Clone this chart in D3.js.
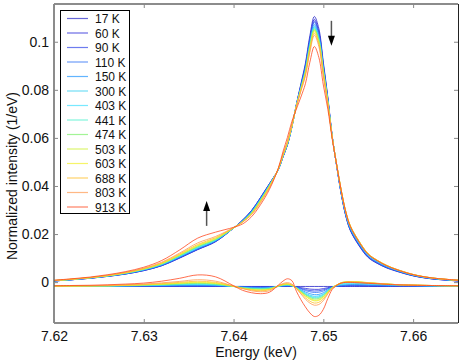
<!DOCTYPE html>
<html>
<head>
<meta charset="utf-8">
<script src="https://cdn.jsdelivr.net/npm/d3@7"></script>
<style>
  body { margin: 0; background: #fff; }
  svg { font-family: 'Liberation Sans', Arial, sans-serif; }
</style>
</head>
<body>
<div id="chart"></div>
<script>
'use strict';

// energy grid (keV)
var energies = [7.620, 7.622, 7.624, 7.626, 7.628, 7.630, 7.632, 7.634, 7.636, 7.638,
  7.640, 7.641, 7.642, 7.643, 7.644, 7.645, 7.6455, 7.646, 7.6465, 7.647,
  7.6475, 7.648, 7.6485, 7.649, 7.6495, 7.650, 7.6505, 7.651, 7.6515, 7.652,
  7.6525, 7.653, 7.654, 7.655, 7.656, 7.657, 7.658, 7.660, 7.662, 7.665];

// 17 K spectrum (1e-3 / eV)
var baseSpectrum = [0.5, 1.0, 1.6, 2.4, 3.4, 4.8, 6.8, 10.0, 13.5, 16.8,
  22.5, 25.8, 29.8, 35.2, 41.0, 47.0, 52.0, 57.0, 64.5, 74.0,
  82.5, 91.0, 102.5, 110.5, 105.5, 91.5, 77.0, 60.5, 48.0, 36.5,
  27.5, 21.5, 15.0, 10.2, 7.8, 6.0, 4.7, 2.6, 1.4, 0.5];

var temperatures = ['17 K', '60 K', '90 K', '110 K', '150 K', '300 K', '403 K',
  '441 K', '474 K', '503 K', '603 K', '688 K', '803 K', '913 K'];

var colors = ['#2626c8', '#2a2ad8', '#2f45e8', '#2f72f5', '#1f95ff', '#33cdf0', '#3ee0ff',
  '#4cefcc', '#7cef6a', '#cdef30', '#f2ef2a', '#ffbf2a', '#ff9a50', '#ff4a22'];

// difference to 17 K spectrum (1e-3 / eV)
var diff17 = [0,0,0,0, 0,0,0,0,0,0,0, 0,0,0,0, 0,0,0,0,
  0,0,0,0,0,0,0,0,0,0, 0,0,0,0,0,0,0,0,0,0,0];
var diff60 = [0,0,0,0, 0,0,0.1,0.1,0.1,0.1,0, 0,-0.1,-0.1,-0.1, 0,0,0.1,0.1,
  -0.1,-0.5,-0.8,-1.1,-1.2,-1.2,-0.9,-0.5,-0.1,0.0, 0.1,0.2,0.2,0.2,0.2,0.1,0.1,0.1,0.1,0,0];
var diff90 = [0,0,0,0.1, 0.1,0.1,0.1,0.2,0.2,0.2,0, -0.1,-0.2,-0.2,-0.2, 0,0.1,0.2,0.1,
  -0.2,-0.8,-1.3,-1.7,-1.9,-1.8,-1.4,-0.8,-0.2,0.1, 0.2,0.3,0.4,0.4,0.3,0.3,0.2,0.2,0.1,0.1,0];
var diff110 = [0,0,0.1,0.1, 0.1,0.2,0.2,0.3,0.3,0.3,0, -0.2,-0.3,-0.4,-0.3, 0,0.2,0.3,0.2,
  -0.3,-1.0,-1.7,-2.2,-2.5,-2.4,-1.9,-1.0,-0.3,0.1, 0.3,0.5,0.6,0.6,0.5,0.4,0.3,0.3,0.2,0.1,0.1];
var diff150 = [0,0.1,0.1,0.1, 0.2,0.3,0.4,0.5,0.5,0.4,0, -0.3,-0.5,-0.6,-0.5, 0,0.3,0.4,0.2,
  -0.4,-1.4,-2.3,-3.0,-3.4,-3.3,-2.6,-1.4,-0.3,0.2, 0.5,0.7,0.8,0.8,0.7,0.6,0.5,0.4,0.3,0.2,0.1];
var diff300 = [0.1,0.1,0.1,0.2, 0.3,0.4,0.5,0.7,0.8,0.6,0, -0.4,-0.7,-0.8,-0.6, 0.1,0.4,0.5,0.3,
  -0.5,-1.6,-2.8,-3.6,-4.1,-3.9,-3.1,-1.6,-0.4,0.3, 0.8,1.0,1.1,1.1,1.0,0.8,0.7,0.5,0.4,0.3,0.2];
var diff403 = [0.1,0.1,0.2,0.2, 0.3,0.4,0.6,0.8,0.9,0.7,0, -0.5,-0.8,-0.9,-0.7, 0.1,0.5,0.6,0.3,
  -0.5,-1.8,-3.1,-4.0,-4.5,-4.3,-3.4,-1.8,-0.4,0.4, 1.0,1.3,1.4,1.3,1.2,1.0,0.8,0.6,0.4,0.3,0.2];
var diff441 = [0.1,0.1,0.2,0.2, 0.4,0.5,0.7,0.9,1.1,0.8,0, -0.6,-0.9,-1.0,-0.8, 0.1,0.5,0.7,0.4,
  -0.6,-1.9,-3.3,-4.2,-4.8,-4.6,-3.6,-1.9,-0.4,0.5, 1.2,1.5,1.6,1.5,1.3,1.1,0.9,0.7,0.5,0.3,0.2];
var diff474 = [0.1,0.2,0.2,0.3, 0.4,0.6,0.8,1.1,1.3,1.0,0, -0.6,-1.0,-1.1,-0.9, 0.2,0.6,0.8,0.4,
  -0.6,-2.1,-3.5,-4.6,-5.2,-5.0,-4.0,-2.1,-0.4,0.6, 1.5,1.8,1.9,1.8,1.5,1.2,1.0,0.8,0.5,0.4,0.2];
var diff503 = [0.1,0.2,0.2,0.3, 0.5,0.7,0.9,1.3,1.6,1.2,0.1, -0.7,-1.2,-1.4,-1.1, 0.2,0.7,0.9,0.5,
  -0.7,-2.3,-3.9,-5.0,-5.7,-5.5,-4.3,-2.3,-0.5,0.6, 1.6,1.9,2.0,1.9,1.6,1.3,1.1,0.8,0.6,0.4,0.3];
var diff603 = [0.2,0.2,0.3,0.3, 0.5,0.7,1.0,1.4,1.8,1.4,0.1, -0.8,-1.3,-1.5,-1.2, 0.3,0.8,1.0,0.5,
  -0.7,-2.4,-4.1,-5.3,-6.0,-5.8,-4.6,-2.4,-0.5,0.6, 1.6,1.9,2.0,1.9,1.6,1.3,1.1,0.8,0.6,0.4,0.3];
var diff688 = [0.2,0.2,0.3,0.4, 0.6,0.8,1.2,1.7,2.2,1.7,0.1, -0.9,-1.5,-1.8,-1.4, 0.3,0.9,1.2,0.6,
  -0.8,-2.8,-4.7,-6.1,-6.9,-6.6,-5.2,-2.8,-0.6,0.6, 1.5,1.8,1.9,1.8,1.5,1.3,1.0,0.8,0.6,0.4,0.3];
var diff803 = [0.2,0.3,0.3,0.5, 0.7,1.0,1.5,2.1,2.8,2.2,0.2, -0.8,-1.8,-2.2,-1.8, 0.4,1.2,1.6,1.0,
  -0.9,-3.1,-5.3,-6.9,-7.8,-7.5,-5.9,-3.1,-0.7,0.5, 1.4,1.7,1.8,1.7,1.5,1.2,1.0,0.8,0.6,0.4,0.3];
var diff913 = [0.3,0.4,0.5,0.7, 1.0,1.4,2.2,3.4,4.8,4.0,0.3, -1.6,-2.6,-3.0,-2.4, 0.6,2.2,3.2,2.4,
  -2.0,-5.5,-8.5,-11.0,-12.5,-12.0,-9.5,-5.0,-1.2,0.5, 1.4,1.7,1.7,1.5,1.3,1.1,0.9,0.7,0.5,0.4,0.3];

var diffs = [diff17, diff60, diff90, diff110, diff150, diff300, diff403,
  diff441, diff474, diff503, diff603, diff688, diff803, diff913];

var diffOffset = -0.0018;

var xTicks = [7.62, 7.63, 7.64, 7.65, 7.66];
var yTicks = [0, 0.02, 0.04, 0.06, 0.08, 0.1];

// arrows: [energy, from, to]
var arrows = [[7.637, 0.0234, 0.0338], [7.6509, 0.1087, 0.0983]];

var width = 463, height = 362;
var margin = {top: 4, right: 5, bottom: 39, left: 54};
var w = width - margin.left - margin.right,
    h = height - margin.top - margin.bottom;

var svg = d3.select('#chart').append('svg')
  .attr('width', width)
  .attr('height', height);

var x = d3.scaleLinear().domain([7.62, 7.665]).range([0, w]);
var y = d3.scaleLinear().domain([-0.017, 0.1157]).range([h, 0]);

var g = svg.append('g')
  .attr('transform', 'translate(' + margin.left + ',' + margin.top + ')');

g.append('clipPath').attr('id', 'clip')
  .append('rect').attr('width', w).attr('height', h);

var series = temperatures.map(function(t, i) {
  return {
    name: t,
    color: colors[i],
    spectrum: energies.map(function(e, j) { return [e, (baseSpectrum[j] + diffs[i][j]) / 1000]; }),
    diff: energies.map(function(e, j) { return [e, diffs[i][j] / 1000 + diffOffset]; })
  };
});

var line = d3.line()
  .x(function(d) { return x(d[0]); })
  .y(function(d) { return y(d[1]); })
  .curve(d3.curveCatmullRom.alpha(0.5));

var plot = g.append('g').attr('clip-path', 'url(#clip)');

series.forEach(function(s) {
  plot.append('path')
    .attr('d', line(s.diff))
    .attr('fill', 'none')
    .attr('stroke', s.color)
    .attr('stroke-opacity', 0.8)
    .attr('stroke-width', 1);
});
series.forEach(function(s) {
  plot.append('path')
    .attr('d', line(s.spectrum))
    .attr('fill', 'none')
    .attr('stroke', s.color)
    .attr('stroke-opacity', 0.8)
    .attr('stroke-width', 1);
});

// arrows
arrows.forEach(function(a) {
  var ax = x(a[0]), y0 = y(a[1]), y1 = y(a[2]);
  var dir = y1 < y0 ? 1 : -1;
  g.append('line')
    .attr('x1', ax).attr('x2', ax)
    .attr('y1', y0).attr('y2', y1 + dir * 8)
    .attr('stroke', '#555')
    .attr('stroke-width', 1.5);
  g.append('path')
    .attr('d', 'M' + ax + ',' + y1 + 'L' + (ax - 3.5) + ',' + (y1 + dir * 10) + 'L' + (ax + 3.5) + ',' + (y1 + dir * 10) + 'Z')
    .attr('fill', '#000');
});

// axes box with inward ticks
var axisColor = '#666';
g.append('line').attr('x1', 0).attr('x2', 0).attr('y1', 0).attr('y2', h).attr('stroke', axisColor).attr('stroke-width', 1.5);
g.append('line').attr('x1', 0).attr('x2', w).attr('y1', h).attr('y2', h).attr('stroke', axisColor).attr('stroke-width', 1.5);
g.append('line').attr('x1', 0).attr('x2', w).attr('y1', 0).attr('y2', 0).attr('stroke', axisColor).attr('stroke-width', 1.5);
g.append('line').attr('x1', w + 0.5).attr('x2', w + 0.5).attr('y1', 0).attr('y2', h).attr('stroke', '#222').attr('stroke-width', 1);

var xAxis = g.append('g')
  .attr('transform', 'translate(0,' + h + ')')
  .call(d3.axisBottom(x).tickValues(xTicks).tickSizeInner(-4).tickSizeOuter(0).tickPadding(8)
    .tickFormat(d3.format('.2f')));
var yAxis = g.append('g')
  .call(d3.axisLeft(y).tickValues(yTicks).tickSizeInner(-4).tickSizeOuter(0).tickPadding(5)
    .tickFormat(function(d) { return d === 0 ? '0' : String(+d.toFixed(2)); }));
g.append('g')
  .call(d3.axisTop(x).tickValues(xTicks).tickSizeInner(-4).tickSizeOuter(0).tickFormat(''));
g.append('g')
  .attr('transform', 'translate(' + w + ',0)')
  .call(d3.axisRight(y).tickValues(yTicks).tickSizeInner(-4).tickSizeOuter(0).tickFormat(''));

g.selectAll('.domain').remove();
g.selectAll('.tick line').attr('stroke', '#888');
g.selectAll('.tick text')
  .attr('fill', '#111')
  .style('font-size', '14px')
  .style('font-family', "'Liberation Sans', Arial, sans-serif");

svg.append('text')
  .attr('x', margin.left + x(7.6425))
  .attr('y', 357)
  .attr('text-anchor', 'middle')
  .style('font-size', '14px')
  .attr('fill', '#111')
  .text('Energy (keV)');

svg.append('text')
  .attr('transform', 'translate(17,176) rotate(-90)')
  .attr('text-anchor', 'middle')
  .style('font-size', '14px')
  .attr('fill', '#111')
  .text('Normalized intensity (1/eV)');

// legend
var legend = svg.append('g').attr('transform', 'translate(60,10)');
legend.append('rect')
  .attr('x', 0.5).attr('y', 0.5)
  .attr('width', 69).attr('height', 203)
  .attr('fill', '#fff')
  .attr('stroke', '#000')
  .attr('stroke-width', 1);

var items = legend.selectAll('g.item')
  .data(series)
  .enter()
  .append('g')
  .attr('class', 'item')
  .attr('transform', function(d, i) { return 'translate(0,' + (8.5 + i * 14.5) + ')'; });

items.append('line')
  .attr('x1', 7).attr('x2', 28)
  .attr('stroke', function(d) { return d.color; })
  .attr('stroke-opacity', 0.7)
  .attr('stroke-width', 1.2);

items.append('text')
  .attr('x', 35)
  .attr('dy', 4.5)
  .style('font-size', '12px')
  .attr('fill', '#111')
  .text(function(d) { return d.name; });
</script>
</body>
</html>
